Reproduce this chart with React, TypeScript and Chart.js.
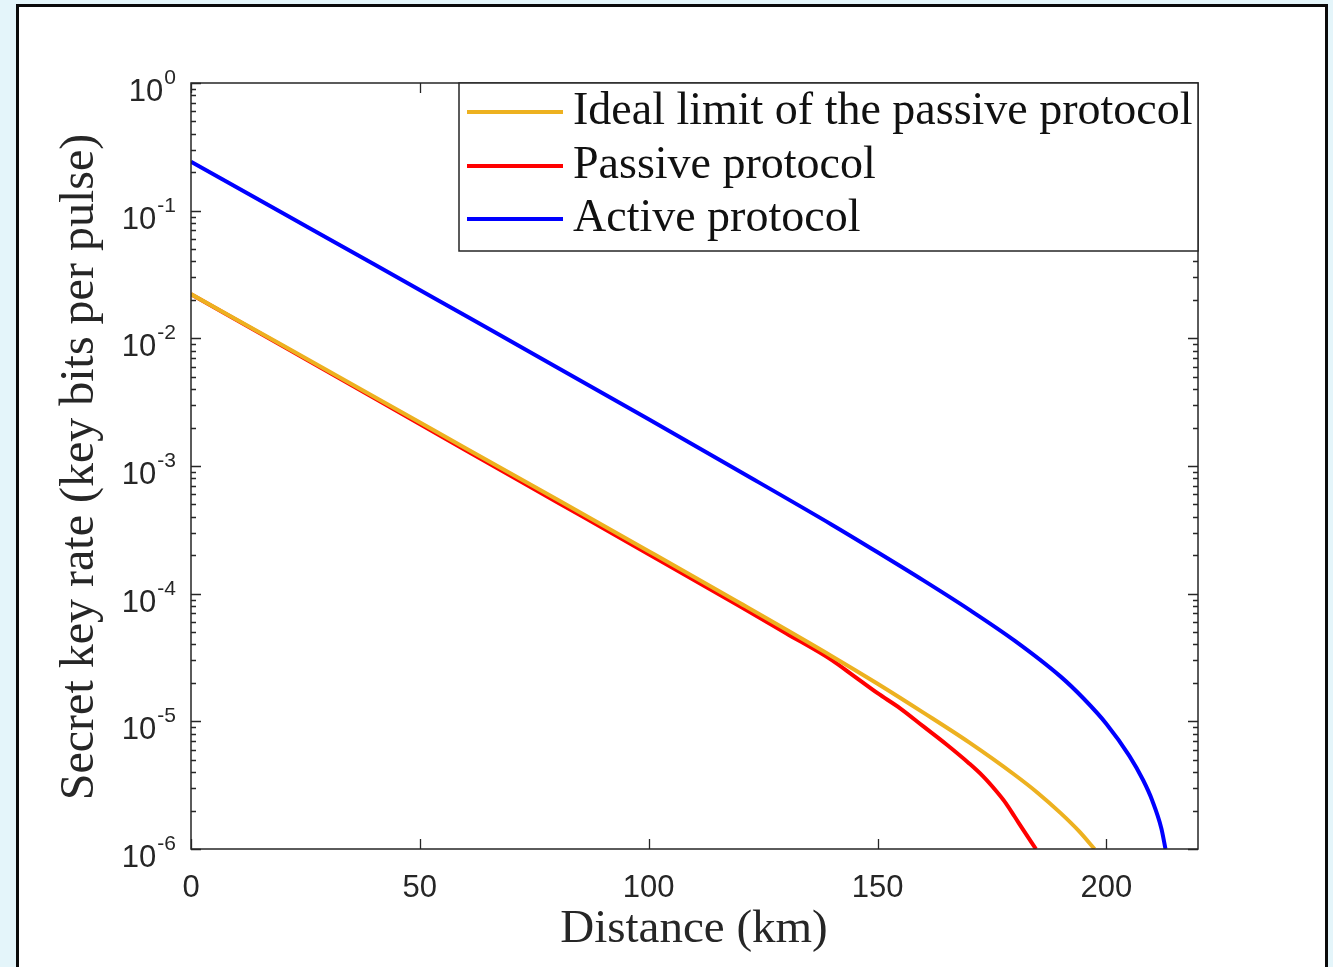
import React, { useEffect, useRef } from 'react';
import { Chart, registerables } from 'chart.js';

Chart.register(...registerables);

// ---- Data (distance in km, secret key rate in key bits per pulse) ----
const idealDistance = [0, 20, 40, 60, 80, 100, 120, 140, 150, 160, 170, 180, 185, 190, 194, 197.4];
const idealRate = [0.0222, 8.81e-3, 3.49e-3, 1.38e-3, 5.46e-4, 2.15e-4, 8.41e-5, 3.24e-5, 1.97e-5, 1.17e-5, 6.84e-6, 3.8e-6, 2.75e-6, 1.91e-6, 1.38e-6, 1.0e-6];

const passiveDistance = [0, 20, 40, 60, 80, 100, 120, 130, 140, 145, 150, 155, 160, 165, 170, 173, 176, 178, 180, 182, 184.6];
const passiveRate = [0.0222, 8.71e-3, 3.41e-3, 1.33e-3, 5.21e-4, 2.04e-4, 7.94e-5, 4.9e-5, 3.02e-5, 2.24e-5, 1.66e-5, 1.26e-5, 9.12e-6, 6.61e-6, 4.68e-6, 3.72e-6, 2.82e-6, 2.29e-6, 1.78e-6, 1.38e-6, 1.0e-6];

const activeDistance = [0, 20, 40, 60, 80, 100, 120, 140, 150, 160, 170, 180, 190, 195, 200, 205, 208, 210, 212, 212.9];
const activeRate = [0.242, 0.0959, 0.038, 0.015, 5.92e-3, 2.32e-3, 9.02e-4, 3.47e-4, 2.11e-4, 1.27e-4, 7.5e-5, 4.27e-5, 2.24e-5, 1.51e-5, 9.55e-6, 5.37e-6, 3.47e-6, 2.4e-6, 1.45e-6, 1.0e-6];

const seriesLabels = ['Ideal limit of the passive protocol', 'Passive protocol', 'Active protocol'];
const seriesColors = ['#EDB120', '#FF0000', '#0000FF'];

const xTicks = [0, 50, 100, 150, 200];
const yExponents = [0, -1, -2, -3, -4, -5, -6];
const xTitle = 'Distance (km)';
const yTitle = 'Secret key rate (key bits per pulse)';

const AXIS = '#262626';

const toPoints = (xs: number[], ys: number[]) => xs.map((x, i) => ({ x, y: ys[i] }));

const matlabPlugin = {
  id: 'matlabDecor',
  afterDatasetsDraw(chart: any) {
    const { ctx, chartArea: a, scales } = chart;
    const xs = scales.x;
    const ys = scales.y;
    ctx.save();

    // ticks
    ctx.strokeStyle = AXIS;
    ctx.lineWidth = 1.3;
    ctx.beginPath();
    for (const e of yExponents) {
      const py = Math.round(ys.getPixelForValue(Math.pow(10, e))) + 0.5;
      ctx.moveTo(a.left, py); ctx.lineTo(a.left + 10, py);
      ctx.moveTo(a.right, py); ctx.lineTo(a.right - 10, py);
      if (e < 0) {
        for (let m = 2; m <= 9; m++) {
          const pm = Math.round(ys.getPixelForValue(m * Math.pow(10, e))) + 0.5;
          ctx.moveTo(a.left, pm); ctx.lineTo(a.left + 5, pm);
          ctx.moveTo(a.right, pm); ctx.lineTo(a.right - 5, pm);
        }
      }
    }
    for (const t of xTicks) {
      const px = Math.round(xs.getPixelForValue(t)) + 0.5;
      ctx.moveTo(px, a.bottom); ctx.lineTo(px, a.bottom - 10);
      ctx.moveTo(px, a.top); ctx.lineTo(px, a.top + 10);
    }
    ctx.stroke();

    // axes box
    ctx.lineWidth = 1.5;
    ctx.strokeRect(a.left, a.top, a.right - a.left, a.bottom - a.top);

    // legend
    const lx = 459, ly = a.top, lw = a.right - 459, lh = 168;
    ctx.fillStyle = '#ffffff';
    ctx.fillRect(lx, ly, lw, lh);
    ctx.strokeStyle = AXIS;
    ctx.lineWidth = 1.5;
    ctx.strokeRect(lx, ly, lw, lh);
    const rowY = [112, 166, 219];
    ctx.font = '46px "Liberation Serif", "DejaVu Serif", serif';
    ctx.textAlign = 'left';
    ctx.textBaseline = 'alphabetic';
    seriesLabels.forEach((lab, i) => {
      ctx.strokeStyle = seriesColors[i];
      ctx.lineWidth = 4;
      ctx.beginPath();
      ctx.moveTo(467, rowY[i]);
      ctx.lineTo(563, rowY[i]);
      ctx.stroke();
      ctx.fillStyle = '#111111';
      ctx.fillText(lab, 573, rowY[i] + 12);
    });

    // x tick labels
    ctx.fillStyle = AXIS;
    ctx.font = '31px "Liberation Sans", Arial, sans-serif';
    ctx.textAlign = 'center';
    ctx.textBaseline = 'middle';
    for (const t of xTicks) {
      ctx.fillText(String(t), xs.getPixelForValue(t), 888);
    }

    // y tick labels (10 with superscript exponent)
    const rightEdge = 176;
    for (const e of yExponents) {
      const py = ys.getPixelForValue(Math.pow(10, e));
      const expStr = e === 0 ? '0' : '-' + String(-e);
      ctx.font = '21px "Liberation Sans", Arial, sans-serif';
      ctx.textAlign = 'left';
      ctx.textBaseline = 'alphabetic';
      const we = ctx.measureText(expStr).width;
      ctx.fillText(expStr, rightEdge - we, py + 1);
      ctx.font = '31px "Liberation Sans", Arial, sans-serif';
      ctx.textAlign = 'right';
      ctx.fillText('10', rightEdge - we - 1, py + 18);
    }

    // axis titles
    ctx.fillStyle = '#262626';
    ctx.font = '47px "Liberation Serif", "DejaVu Serif", serif';
    ctx.textAlign = 'center';
    ctx.textBaseline = 'middle';
    ctx.fillText(xTitle, 694, 930);
    ctx.save();
    ctx.translate(80, 467);
    ctx.rotate(-Math.PI / 2);
    ctx.font = '48px "Liberation Serif", "DejaVu Serif", serif';
    ctx.fillText(yTitle, 0, 0);
    ctx.restore();

    ctx.restore();
  },
};

export default function App() {
  const canvasRef = useRef<HTMLCanvasElement | null>(null);

  useEffect(() => {
    const canvas = canvasRef.current;
    if (!canvas) return;
    const chart = new Chart(canvas, {
      type: 'line',
      data: {
        datasets: [
          { label: seriesLabels[0], data: toPoints(idealDistance, idealRate), borderColor: seriesColors[0], borderWidth: 4, pointRadius: 0, cubicInterpolationMode: 'monotone', fill: false },
          { label: seriesLabels[1], data: toPoints(passiveDistance, passiveRate), borderColor: seriesColors[1], borderWidth: 4, pointRadius: 0, cubicInterpolationMode: 'monotone', fill: false },
          { label: seriesLabels[2], data: toPoints(activeDistance, activeRate), borderColor: seriesColors[2], borderWidth: 4, pointRadius: 0, cubicInterpolationMode: 'monotone', fill: false },
        ],
      },
      options: {
        responsive: false,
        animation: false,
        devicePixelRatio: 1,
        layout: { padding: { left: 191, top: 83, right: 135, bottom: 118 } },
        plugins: { legend: { display: false }, tooltip: { enabled: false } },
        scales: {
          x: { type: 'linear', min: 0, max: 220, display: false },
          y: { type: 'logarithmic', min: 1e-6, max: 1, display: false },
        },
      } as any,
      plugins: [matlabPlugin],
    });
    return () => chart.destroy();
  }, []);

  return (
    <div style={{ position: 'fixed', left: 0, top: 0, width: 1333, height: 967, background: '#e4f5fa', overflow: 'hidden' }}>
      <div style={{ position: 'absolute', left: 16, top: 4, width: 1312, height: 1000, background: '#ffffff', border: '3px solid #0a0a0a', boxSizing: 'border-box' }} />
      <canvas ref={canvasRef} width={1333} height={967} style={{ position: 'absolute', left: 0, top: 0, width: 1333, height: 967 }} />
    </div>
  );
}
